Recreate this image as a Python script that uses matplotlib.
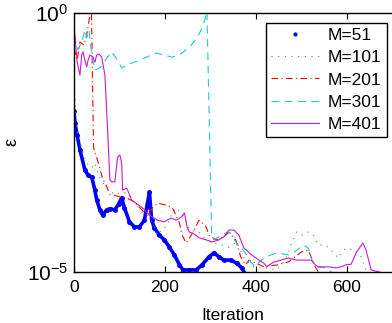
import matplotlib
matplotlib.use("Agg")
import matplotlib.pyplot as plt
from matplotlib.lines import Line2D
import numpy as np

plt.rcParams['font.family'] = ['Liberation Sans', 'DejaVu Sans']
plt.rcParams['mathtext.fontset'] = 'custom'
plt.rcParams['mathtext.rm'] = 'Liberation Sans'
plt.rcParams['mathtext.it'] = 'Liberation Sans:italic'
plt.rcParams['font.size'] = 12

# values: iteration, log10(error)
it51 = [0, 2, 7, 13, 24, 31, 39, 46, 50, 57, 63, 72, 79, 90, 98, 105, 111, 122, 133, 144,
        155, 160, 166, 171, 177, 188, 199, 210, 221, 232, 240, 254, 269, 282, 297, 308,
        319, 330, 345, 358, 369, 378]
lg51 = [-1.89, -2.12, -2.36, -2.64, -3.03, -3.13, -3.17, -3.42, -3.61, -3.80, -3.90, -3.80,
        -3.78, -3.80, -3.69, -3.57, -3.76, -4.03, -4.13, -4.13, -4.00, -3.75, -3.46, -4.00,
        -4.15, -4.29, -4.38, -4.52, -4.67, -4.86, -4.96, -4.96, -4.96, -4.86, -4.71, -4.63,
        -4.71, -4.77, -4.77, -4.83, -4.92, -5.05]

it101 = [0, 2, 7, 20, 28, 39, 46, 57, 72, 90, 103, 116, 127, 138, 149, 162, 173, 184, 195,
         203, 216, 225, 243, 254, 275, 286, 302, 324, 341, 358, 374, 389, 400, 422, 446, 461,
         472, 479, 490, 501, 516, 527, 538, 553, 566, 582, 588, 599, 619, 630, 636, 643, 650]
lg101 = [-1.40, -1.62, -2.30, -2.70, -2.90, -2.99, -2.90, -3.19, -3.38, -3.51, -3.47, -3.47,
         -3.57, -3.71, -3.84, -3.90, -4.05, -4.29, -4.15, -4.13, -3.86, -3.76, -3.94, -4.19,
         -4.23, -4.34, -4.42, -4.48, -4.52, -4.42, -4.73, -4.86, -4.92, -4.92, -4.96, -4.81,
         -4.63, -4.44, -4.23, -4.29, -4.23, -4.29, -4.48, -4.48, -4.58, -4.73, -4.63, -4.54,
         -4.58, -4.67, -4.81, -4.96, -5.1]

it201 = [0, 7, 13, 22, 28, 35, 38, 43, 48, 52, 57, 63, 72, 79, 90, 100, 116, 133, 144, 160,
         173, 184, 203, 216, 232, 238, 247, 265, 275, 291, 297, 313, 330, 341, 356, 367, 378,
         385, 418, 450, 473, 501, 516, 531, 545]
lg201 = [-0.68, -0.91, -0.56, -0.62, -0.42, -0.04, 0.3, -2.60, -2.75, -2.85, -3.00, -3.20,
         -3.35, -3.50, -3.52, -3.55, -3.57, -3.65, -3.75, -3.90, -3.76, -3.67, -3.71, -3.75,
         -4.05, -4.29, -4.44, -4.19, -4.00, -4.13, -4.29, -4.38, -4.32, -4.23, -4.38, -4.71,
         -4.86, -4.77, -4.90, -4.86, -4.80, -4.61, -4.58, -4.90, -5.1]

it301 = [0, 9, 17, 24, 28, 33, 39, 46, 57, 63, 72, 83, 96, 105, 118, 127, 144, 160, 181, 195,
         216, 232, 254, 271, 282, 289, 292, 303, 308, 315, 326, 337, 345, 356, 367, 380, 389,
         400, 407, 422, 446, 472, 483, 505, 516, 522, 531, 555, 566, 575]
lg301 = [-0.42, -0.71, -0.56, -0.33, -0.48, -0.33, -0.81, -1.10, -1.06, -1.00, -0.87, -0.75,
         -0.91, -1.06, -1.00, -0.97, -0.91, -0.85, -0.77, -0.81, -0.85, -0.81, -0.66, -0.48,
         -0.29, -0.10, 0.3, -4.29, -4.38, -4.34, -4.29, -4.23, -4.25, -4.42, -4.52, -4.67,
         -4.81, -4.90, -4.81, -4.71, -4.63, -4.67, -4.63, -4.48, -4.54, -4.73, -4.90, -4.92,
         -5.00, -5.1]

it401 = [0, 7, 13, 17, 20, 24, 28, 31, 35, 42, 46, 50, 55, 61, 63, 68, 70, 72, 74, 79, 83,
         90, 96, 101, 105, 107, 116, 118, 127, 133, 149, 155, 166, 173, 184, 199, 205, 214,
         225, 236, 243, 249, 254, 260, 269, 275, 291, 304, 319, 330, 341, 352, 363, 374, 380,
         391, 407, 418, 424, 439, 472, 490, 512, 522, 531, 538, 560, 577, 588, 599, 610, 621,
         636, 643, 654, 662, 673, 690]
lg401 = [-0.23, -0.95, -1.20, -0.81, -0.75, -0.91, -1.04, -0.91, -0.81, -0.85, -0.95, -0.81,
         -0.79, -0.85, -0.95, -1.20, -1.53, -1.91, -2.26, -3.22, -3.26, -3.26, -2.78, -2.74,
         -2.90, -3.42, -3.38, -3.42, -3.61, -3.65, -3.75, -3.80, -3.90, -3.94, -4.00, -4.03,
         -4.00, -3.96, -4.00, -3.94, -3.86, -4.13, -4.23, -4.25, -4.29, -4.34, -4.38, -4.42,
         -4.38, -4.32, -4.19, -4.19, -4.29, -4.54, -4.58, -4.67, -4.77, -4.83, -4.90, -4.81,
         -4.73, -4.77, -4.77, -4.77, -4.86, -4.90, -4.90, -4.92, -4.90, -4.86, -4.85, -4.63,
         -4.44, -4.58, -4.96, -4.98, -5.00, -5.05]

labels = ['M=51', 'M=101', 'M=201', 'M=301', 'M=401']

green = (0.2, 0.65, 0.2)
cyan = (0.1, 0.8, 0.8)
mag = (0.8, 0.1, 0.8)

fig = plt.figure(figsize=(3.92, 3.23), dpi=100)
ax = fig.add_axes([74 / 392, 1 - 272 / 323, 318 / 392, 259 / 323])

lw = 0.8
ax.plot(it51, 10 ** np.array(lg51), '-', color='b', lw=2.6, solid_capstyle='round',
        solid_joinstyle='round')
ax.plot(it51, 10 ** np.array(lg51), '.', color='b', ms=5)
ax.plot(it101, 10 ** np.array(lg101), color=green, lw=lw, dashes=(1, 5))
ax.plot(it201, 10 ** np.array(lg201), color='r', lw=lw, dashes=(6, 3, 1, 3))
ax.plot(it301, 10 ** np.array(lg301), color=cyan, lw=lw, dashes=(7, 5))
ax.plot(it401, 10 ** np.array(lg401), color=mag, lw=lw)

ax.set_yscale('log')
ax.set_xlim(0, 700)
ax.set_ylim(1e-5, 1)
ax.set_xticks([0, 200, 400, 600])
ax.set_yticks([1e-5, 1])
ax.set_yticklabels([r'$10^{-5}$', r'$10^{0}$'])
ax.yaxis.set_minor_locator(plt.NullLocator())
ax.tick_params(direction='in', top=True, right=False, length=4, width=0.8, labelsize=12.5)
ax.tick_params(axis='x', pad=6)
ax.tick_params(axis='y', labelsize=15, pad=4)
for s in ax.spines.values():
    s.set_linewidth(1.0)
ax.spines['right'].set_visible(False)

ax.set_xlabel('Iteration', fontsize=12.5)
ax.xaxis.set_label_coords(0.5, -(308 - 272) / 259, transform=ax.transAxes)
ax.set_ylabel('ε', fontsize=13)
ax.yaxis.set_label_coords(-(74 - 20) / 318, 0.5, transform=ax.transAxes)

handles = [
    Line2D([], [], ls='none', marker='.', color='b', ms=4),
    Line2D([], [], color=green, lw=lw, dashes=(1, 5)),
    Line2D([], [], color='r', lw=lw, dashes=(6, 3, 1, 3)),
    Line2D([], [], color=cyan, lw=lw, dashes=(7, 5)),
    Line2D([], [], color=mag, lw=lw),
]
leg = ax.legend(handles, labels, loc='upper right', fontsize=12.5, fancybox=False,
                edgecolor='k', framealpha=1, handlelength=2.8, borderpad=0.3,
                labelspacing=0.4, handletextpad=0.5, borderaxespad=0,
                bbox_to_anchor=((387 - 74) / 318, (272 - 23) / 259))
leg.get_frame().set_linewidth(1.0)

fig.savefig('out.png', dpi=100)
